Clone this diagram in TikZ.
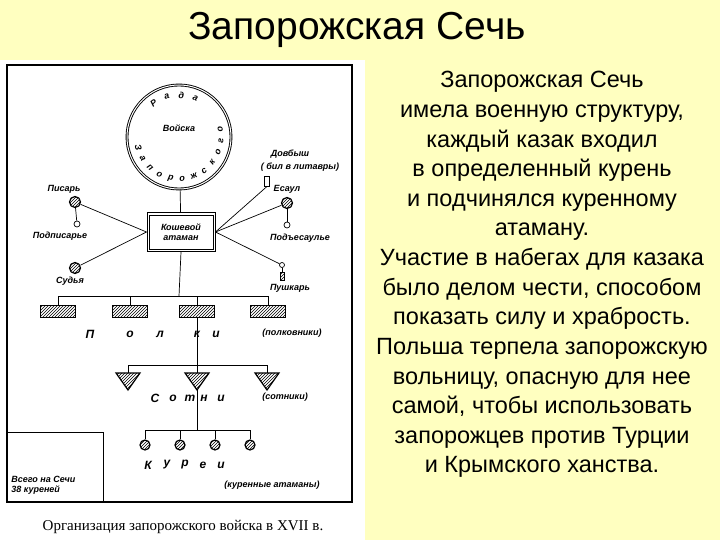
\documentclass[tikz,border=0pt]{standalone}
\usepackage{fontspec}
\setmainfont{Liberation Sans}
\newfontfamily\serifff{Liberation Serif}
\usetikzlibrary{patterns}
\definecolor{bgy}{RGB}{255,255,192}
\begin{document}
\begin{tikzpicture}[x=1pt,y=-1pt,line width=0.7pt,
  lbl/.style={font=\fontsize{9}{10}\selectfont\bfseries\itshape,inner sep=0pt,align=center},
  big/.style={font=\fontsize{12}{13}\selectfont\bfseries\itshape,inner sep=0pt},
  hatch/.style={draw,pattern=north east lines,pattern color=black},
  hcirc/.style={circle,draw,line width=1.2pt,pattern=north east lines,minimum size=11pt,inner sep=0pt},
  scirc/.style={circle,draw,fill=white,minimum size=6pt,inner sep=0pt},
  kcirc/.style={circle,draw,line width=1.2pt,pattern=north east lines,minimum size=10pt,inner sep=0pt},
  regbox/.style={hatch,line width=1pt,minimum width=35pt,minimum height=12pt,inner sep=0pt},
  tri/.style={hatch,line width=1.2pt},
  rt/.style={font=\fontsize{23.5}{26}\selectfont,inner sep=0pt,anchor=base}]
\fill[bgy] (0,0) rectangle (720,540);
\fill[white] (0,60) rectangle (365,540);
\useasboundingbox (0,0) rectangle (720,540);
\node[font=\fontsize{39}{44}\selectfont] (title) at (357,30) {Запорожская Сечь};
% right text
\foreach \t [count=\i from 0] in {{Запорожская Сечь},{имела военную структуру,},{каждый казак входил},{в определенный курень},{и подчинялся куренному},{атаману.},{Участие в набегах для казака},{было делом чести, способом},{показать силу и храбрость.},{Польша терпела запорожскую},{вольницу, опасную для нее},{самой, чтобы использовать},{запорожцев против Турции},{и Крымского ханства.}}
  \node[rt] (r\i) at (542,{88+29.6*\i}) {\t};
% frame
\draw[line width=1.2pt] (7,65) rectangle (352,502);
\draw[line width=1pt] (7,432) -- (103,432) -- (103,502);
\node[lbl,align=left,anchor=west] (vsego) at (11,485) {Всего на Сечи\\38 куреней};
\node[font=\serifff\fontsize{15}{17}\selectfont] (cap) at (183,527) {Организация запорожского войска в XVII в.};
% rada circle
\node[circle,draw,double,double distance=1pt,line width=0.9pt,minimum size=104pt,inner sep=0pt] (rada) at (179,137) {};
\node[lbl] (vojska) at (179,128) {Войска};
\foreach \l [count=\i from 0] in {Р,а,д,а}{
  \pgfmathsetmacro\a{127-\i*20}
  \node[lbl,rotate=\a-90] at ({179+42*cos(\a)},{137-42*sin(\a)}) {\l};}
\foreach \l [count=\i from 0] in {З,а,п,о,р,о,ж,с,к,о,г,о}{
  \pgfmathsetmacro\a{194+\i*16.1}
  \node[lbl,rotate=\a+90] at ({179+42*cos(\a)},{137-42*sin(\a)}) {\l};}
% koshevoi
\node[draw,line width=1pt,minimum width=68pt,minimum height=39pt,inner sep=0pt] (kosh) at (181,232) {};
\draw[line width=0.8pt] (149,215) rectangle (213,249);
\node[lbl] (koshL) at (181,232) {Кошевой\\атаман};
\draw (rada) -- (kosh);
% left side
\node[hcirc] (pisar) at (75,202) {};
\node[lbl] (pisarL) at (64,189) {Писарь};
\node[scirc] (podp) at (77,224) {};
\node[lbl] (podpL) at (60,236) {Подписарье};
\draw (pisar) -- (podp);
\draw (pisar) -- (kosh.west);
\node[hcirc] (sud) at (75,268) {};
\node[lbl] (sudL) at (70,281) {Судья};
\draw (sud) -- (kosh.west);
% right side
\node[draw,fill=white,minimum width=5pt,minimum height=10pt,inner sep=0pt,line width=0.9pt] (dovb) at (267,181) {};
\node[lbl] (dovbL1) at (290,154) {Довбыш};
\node[lbl] (dovbL2) at (300,167) {( бил в литавры)};
\draw (kosh.east) -- (dovb.south);
\node[hcirc] (esaul) at (287,203) {};
\node[lbl] (esaulL) at (287,189) {Есаул};
\node[scirc] (podes) at (287,225) {};
\node[lbl] (podesL) at (300,238) {Подъесаулье};
\draw (esaul) -- (podes);
\draw (kosh.east) -- (esaul);
\node[circle,draw,fill=white,minimum size=5pt,inner sep=0pt] (push) at (282,265) {};
\node[draw,pattern=north east lines,minimum width=4pt,minimum height=8pt,inner sep=0pt] (pushb) at (282,276) {};
\draw (push) -- (pushb);
\node[lbl] (pushL) at (290,288) {Пушкарь};
\draw (kosh.east) -- (push);
% polki
\coordinate (b1) at (179,296);
\draw (kosh.south) -- (b1);
\foreach \x [count=\i] in {58,130,197,268}{
  \node[regbox] (p\i) at (\x,311) {};
  \draw (\x,296) -- (p\i.north);}
\draw (p1.north |- b1) -- (p4.north |- b1);
\foreach \l/\x in {П/90,о/130,л/160,к/197,и/216}{\node[big] at (\x,334) {\l};}
\node[lbl] (polkL) at (292,333) {(полковники)};
% sotni
\coordinate (b2) at (197,365);
\draw (p3.south) -- (b2);
\draw (128,365) -- (267,365);
\foreach \x [count=\i] in {128,197,267}{
  \draw (\x,365) -- (\x,373);
  \draw[tri] (\x-12,373) -- (\x+12,373) -- (\x,390) -- cycle;}
\coordinate (t2) at (197,390);
\foreach \l/\x in {С/155,о/173,т/190,н/204,и/221}{\node[big] at (\x,398) {\l};}
\node[lbl] (sotL) at (285,397) {(сотники)};
% kureni
\coordinate (b3) at (197,430);
\draw (t2) -- (b3);
\draw (145,430) -- (250,430);
\foreach \x [count=\i] in {145,180,215,250}{
  \node[kcirc] (k\i) at (\x,445) {};
  \draw (\x,430) -- (k\i.north);}
\foreach \l/\x in {К/148,у/167,р/185,е/203,и/221}{\node[big] at (\x,465) {\l};}
\node[lbl] (kurL) at (272,485) {(куренные атаманы)};
\end{tikzpicture}
\end{document}
